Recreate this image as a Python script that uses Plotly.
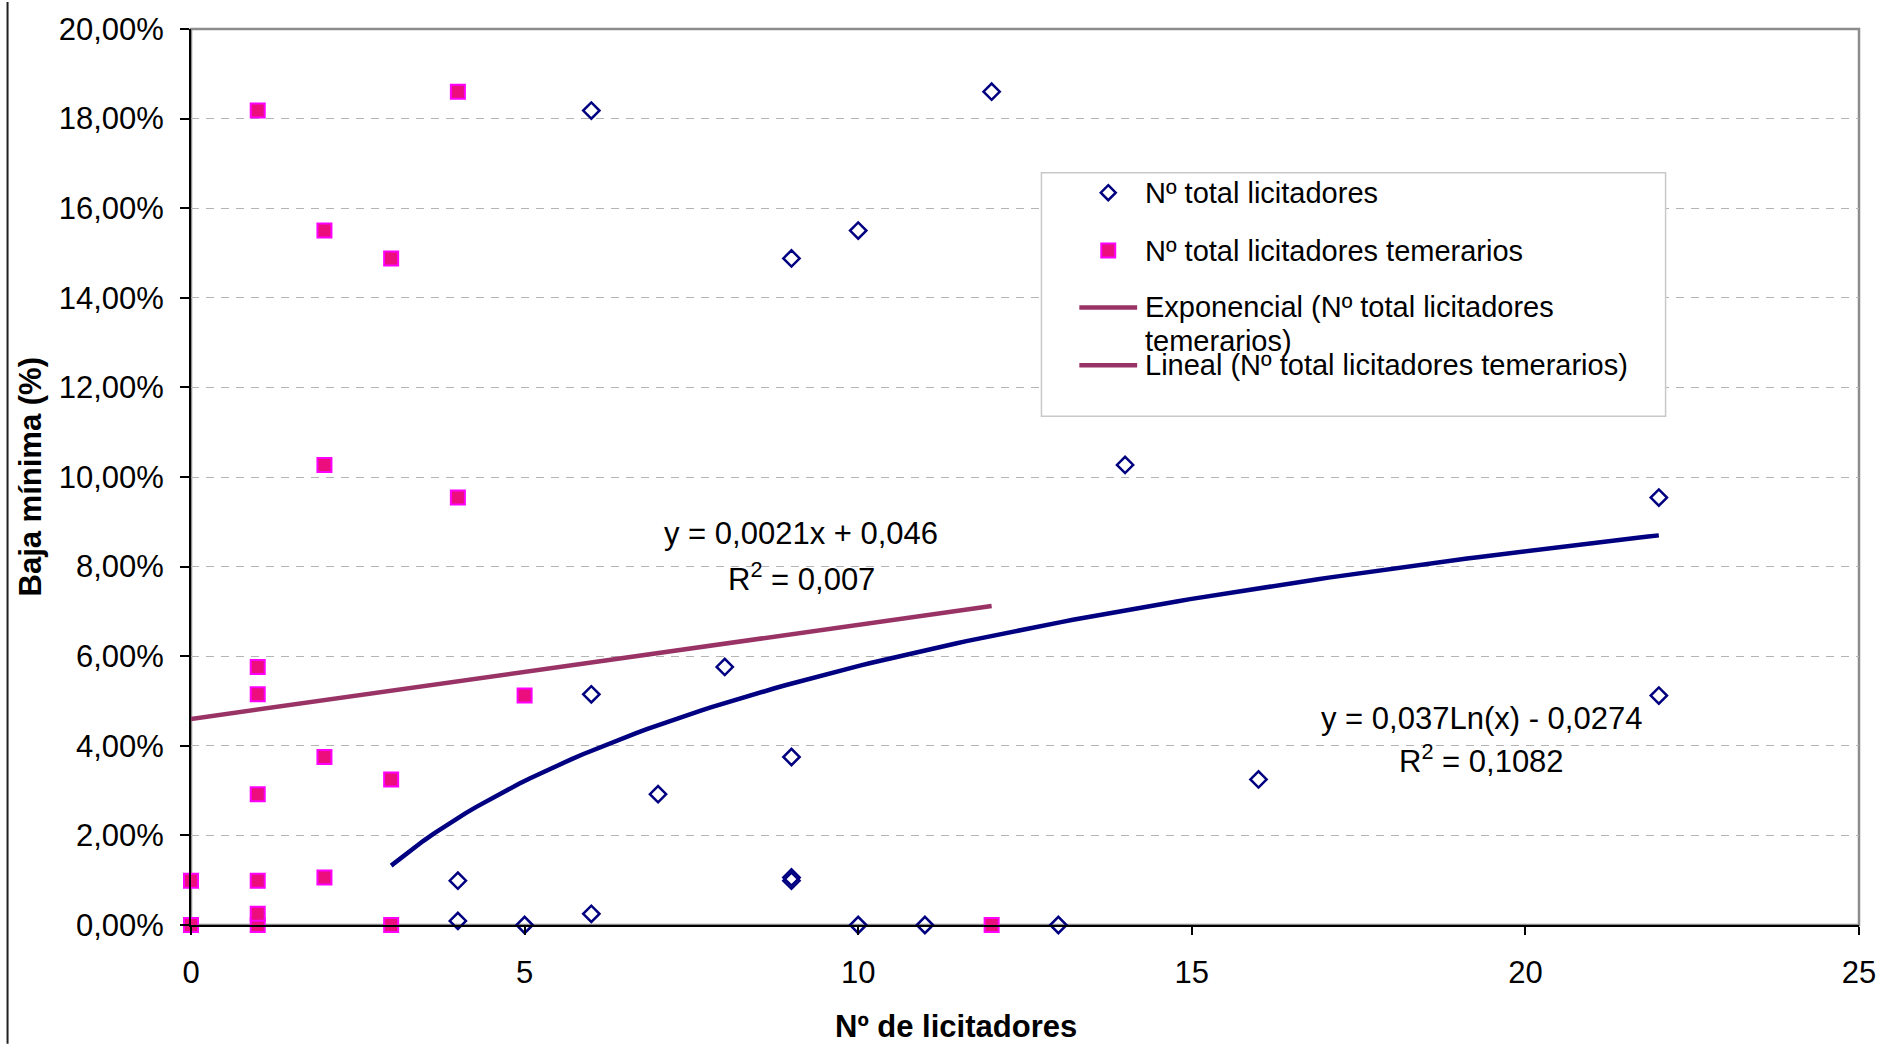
import numpy as np
import plotly.graph_objects as go

# ---- data ----
total_x = [6, 12, 9, 10, 14, 22, 8, 6, 22, 9, 7, 16, 4, 9, 9, 4, 5, 6, 10, 11, 13]
total_y_pct = [18.18, 18.60, 14.88, 15.50, 10.27, 9.54, 5.76, 5.15, 5.12, 3.75, 2.92,
               3.25, 0.99, 0.99, 1.06, 0.09, 0.00, 0.25, 0.00, 0.00, 0.00]

tem_x = [1, 4, 3, 2, 2, 4, 1, 1, 5, 2, 1, 3, 0, 1, 2, 0, 1, 3, 12, 1]
tem_y_pct = [18.18, 18.60, 14.88, 15.50, 10.27, 9.54, 5.76, 5.15, 5.12, 3.75, 2.92,
             3.25, 0.99, 0.99, 1.06, 0.00, 0.00, 0.00, 0.00, 0.25]

# trend lines (coefficients as printed on the chart)
lin_slope, lin_intercept = 0.0021, 0.046
lin_xrange = [0, 12]
log_a, log_b = 0.037, -0.0274
log_xrange = [3, 22]

x_ticks = [0, 5, 10, 15, 20, 25]
legend_labels = ["Nº total licitadores", "Nº total licitadores temerarios",
                 "Exponencial (Nº total licitadores", "temerarios)",
                 "Lineal (Nº total licitadores temerarios)"]

NAVY = "#000080"
PINK_FILL = "#EB0E7C"
MAGENTA = "#FF00FF"
MAROON = "#993366"
FONT = "Liberation Sans, Arial, sans-serif"

total_y = [v / 100 for v in total_y_pct]
tem_y = [v / 100 for v in tem_y_pct]

lin_x = np.linspace(lin_xrange[0], lin_xrange[1], 2)
lin_y = lin_slope * lin_x + lin_intercept
log_x = np.linspace(log_xrange[0], log_xrange[1], 120)
log_y = log_a * np.log(log_x) + log_b

fig = go.Figure()
fig.add_trace(go.Scatter(x=lin_x, y=lin_y, mode="lines",
                         line=dict(color=MAROON, width=4.5), showlegend=False,
                         name="Lineal (Nº total licitadores temerarios)"))
fig.add_trace(go.Scatter(x=log_x, y=log_y, mode="lines",
                         line=dict(color=NAVY, width=4.5), showlegend=False,
                         name="Logarítmica (Nº total licitadores)"))
fig.add_trace(go.Scatter(x=total_x, y=total_y, mode="markers", name=legend_labels[0],
                         marker=dict(symbol="diamond-open", size=12.5, color=NAVY,
                                     line=dict(color=NAVY, width=2.5)),
                         cliponaxis=False, showlegend=False))
fig.add_trace(go.Scatter(x=tem_x, y=tem_y, mode="markers", name=legend_labels[1],
                         marker=dict(symbol="square", size=14, color=PINK_FILL,
                                     line=dict(color=MAGENTA, width=2)),
                         cliponaxis=False, showlegend=False))

# ---- geometry helpers (pixel -> paper) ----
W, H = 1888, 1044
PL, PR, PT, PB = 191, 1864, 27, 925


def pxx(x):
    return (x - PL) / (PR - PL)


def pxy(y):
    return (PB - y) / (PB - PT)


shapes = []
# plot frame (gray top/right)
shapes.append(dict(type="rect", xref="paper", yref="paper", x0=0, x1=1, y0=0, y1=1,
                   line=dict(color="#8C8C8C", width=2.5), layer="below"))
# left chart border
shapes.append(dict(type="line", xref="paper", yref="paper", x0=pxx(7), x1=pxx(7),
                   y0=pxy(0), y1=pxy(H), line=dict(color="#202020", width=2)))

# manual legend
shapes.append(dict(type="rect", xref="paper", yref="paper",
                   x0=pxx(1044), x1=pxx(1670), y0=pxy(415), y1=pxy(171),
                   line=dict(color="#C8C8C8", width=1.5), fillcolor="white"))
cx, cy, r = 1111, 191, 7.5
shapes.append(dict(type="path", xref="paper", yref="paper",
                   path=f"M {pxx(cx)},{pxy(cy - r)} L {pxx(cx + r)},{pxy(cy)} "
                        f"L {pxx(cx)},{pxy(cy + r)} L {pxx(cx - r)},{pxy(cy)} Z",
                   line=dict(color=NAVY, width=2.5), fillcolor="white"))
cy2, s = 249, 7
shapes.append(dict(type="rect", xref="paper", yref="paper",
                   x0=pxx(cx - s), x1=pxx(cx + s), y0=pxy(cy2 + s), y1=pxy(cy2 - s),
                   line=dict(color=MAGENTA, width=2), fillcolor=PINK_FILL))
for ly in (306, 364):
    shapes.append(dict(type="line", xref="paper", yref="paper",
                       x0=pxx(1082), x1=pxx(1140), y0=pxy(ly), y1=pxy(ly),
                       line=dict(color=MAROON, width=4.5)))

annotations = []
for txt, ly in zip(legend_labels, [191, 249, 306, 340, 364]):
    annotations.append(dict(text=txt, xref="paper", yref="paper", x=pxx(1146), y=pxy(ly),
                            xanchor="left", yanchor="middle", showarrow=False,
                            font=dict(family=FONT, size=29, color="black")))

# equation labels
eq_font = dict(family=FONT, size=31, color="black")
annotations += [
    dict(text="y = 0,0021x + 0,046", xref="paper", yref="paper", x=pxx(803), y=pxy(533),
         showarrow=False, font=eq_font, xanchor="center", yanchor="middle"),
    dict(text="R<sup>2</sup> = 0,007", xref="paper", yref="paper", x=pxx(803), y=pxy(576),
         showarrow=False, font=eq_font, xanchor="center", yanchor="middle"),
    dict(text="y = 0,037Ln(x) - 0,0274", xref="paper", yref="paper", x=pxx(1485), y=pxy(718),
         showarrow=False, font=eq_font, xanchor="center", yanchor="middle"),
    dict(text="R<sup>2</sup> = 0,1082", xref="paper", yref="paper", x=pxx(1485), y=pxy(759),
         showarrow=False, font=eq_font, xanchor="center", yanchor="middle"),
]
# axis titles
title_font = dict(family=FONT, size=31, color="black")
annotations += [
    dict(text="<b>Nº de licitadores</b>", xref="paper", yref="paper", x=pxx(958), y=pxy(1027),
         showarrow=False, font=title_font, xanchor="center", yanchor="middle"),
    dict(text="<b>Baja mínima (%)</b>", xref="paper", yref="paper", x=pxx(30), y=pxy(476),
         showarrow=False, font=title_font, xanchor="center", yanchor="middle", textangle=-90),
]

fig.update_layout(
    width=W, height=H,
    margin=dict(l=PL, r=W - PR, t=PT, b=H - PB, pad=0),
    paper_bgcolor="white", plot_bgcolor="white",
    separators=", ",
    font=dict(family=FONT, size=31, color="black"),
    showlegend=False,
    shapes=shapes, annotations=annotations,
    xaxis=dict(range=[0, 25], tickvals=x_ticks, showgrid=False, zeroline=False,
               showline=True, linecolor="black", linewidth=2,
               ticks="outside", ticklen=8, tickwidth=1.5, tickcolor="black",
               ticklabelstandoff=11, tickfont=dict(family=FONT, size=31)),
    yaxis=dict(range=[0, 0.20], dtick=0.02, tickformat=".2%", zeroline=False,
               showgrid=True, gridcolor="#B4B4B4", gridwidth=1, griddash="8px,7px",
               showline=True, linecolor="black", linewidth=2,
               ticks="outside", ticklen=9, tickwidth=1.5, tickcolor="black",
               ticklabelstandoff=10, tickfont=dict(family=FONT, size=31)),
)

fig.write_html("out.html", config={"displayModeBar": False},
               post_script="document.body.style.margin='0';document.body.style.overflow='hidden';")
